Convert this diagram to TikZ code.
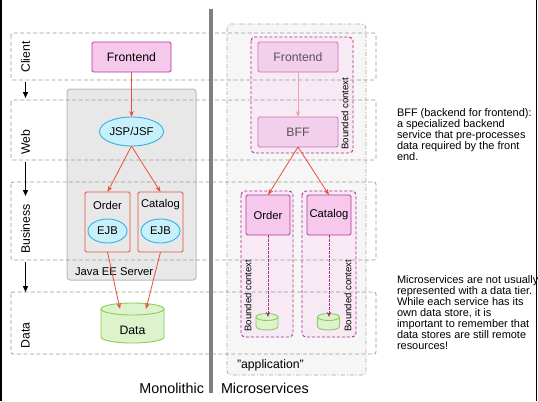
\documentclass[tikz,border=0pt]{standalone}
\usepackage{fontspec}
\setmainfont{Liberation Sans}
\usetikzlibrary{arrows.meta,shapes.geometric}
\definecolor{pinkfill}{HTML}{F5C8EC}
\definecolor{pinkdraw}{HTML}{B23AA0}
\definecolor{pinkfillB}{HTML}{F4CFEB}
\definecolor{pinkdrawB}{HTML}{C673B5}
\definecolor{bcfill}{HTML}{F8EAF4}
\definecolor{bcdraw}{HTML}{B0288F}
\definecolor{arrred}{HTML}{E8503A}
\definecolor{arrsalmon}{HTML}{F5A0A0}
\definecolor{cyanfill}{HTML}{C8F0FB}
\definecolor{cyandraw}{HTML}{3AAEE0}
\definecolor{greenfill}{HTML}{DCF3CC}
\definecolor{greendraw}{HTML}{8CCC5C}
\definecolor{srvfill}{HTML}{E8E8E8}
\definecolor{srvdraw}{HTML}{BBBBBB}
\definecolor{bandgray}{HTML}{9A9A9A}
\definecolor{appfill}{HTML}{F6F6F6}
\definecolor{appdraw}{HTML}{A8A8A8}
\definecolor{divgray}{HTML}{808080}
\definecolor{txtgray}{HTML}{555555}
\newcommand\fsA{\fontsize{12.3}{14}\selectfont}
\newcommand\fsB{\fontsize{11.3}{13}\selectfont}
\newcommand\fsC{\fontsize{9.6}{11}\selectfont}
\newcommand\fsD{\fontsize{11}{10.9}\selectfont}
\newcommand\fsE{\fontsize{14.4}{16}\selectfont}
\tikzset{
  band/.style={draw=bandgray, dash pattern=on 4bp off 2.5bp, rounded corners=2bp, line width=0.8bp},
  appbox/.style={draw=appdraw, fill=appfill, dash pattern=on 4bp off 2bp on 1bp off 2bp, rounded corners=4bp, line width=0.8bp},
  server/.style={draw=srvdraw, fill=srvfill, rounded corners=3bp, line width=1bp},
  bcbox/.style={draw=bcdraw, fill=bcfill, dash pattern=on 3bp off 2bp, rounded corners=4bp, line width=0.9bp},
  pinkbox/.style={draw=pinkdraw, fill=pinkfill, rounded corners=1.5bp, line width=0.9bp, font=\fsA},
  pinkboxB/.style={draw=pinkdrawB, fill=pinkfillB, rounded corners=1.5bp, line width=0.9bp, font=\fsA, text=txtgray},
  redbox/.style={draw=arrred, rounded corners=1.5bp, line width=0.9bp},
  cyanell/.style={ellipse, draw=cyandraw, fill=cyanfill, line width=0.9bp, font=\fsB},
  cylstyle/.style={draw=greendraw, fill=greenfill, line width=0.9bp},
  redarr/.style={draw=arrred, line width=0.8bp, -{Stealth[length=6bp,width=4.5bp]}},
  salarr/.style={draw=arrsalmon, line width=1bp, -{Stealth[length=6bp,width=4.5bp]}},
  magarr/.style={draw=bcdraw, line width=0.8bp, dash pattern=on 2.5bp off 1.5bp, -{Stealth[length=5bp,width=4bp]}},
  tierarr/.style={draw=black, line width=1.4bp, -{Triangle[length=6bp,width=5bp]}},
  tierlbl/.style={rotate=90, font=\fsA},
  bclbl/.style={rotate=90, font=\fsC},
  every node/.style={inner sep=0pt, outer sep=0pt}
}
\begin{document}
\begin{tikzpicture}[x=1bp,y=-1bp]
\useasboundingbox (0,0) rectangle (538,401);
\fill[white] (0,0) rectangle (538,401);

% application box
\draw[appbox] (227,24) rectangle (366,375);
\node[anchor=west, font=\fsA] (applbl) at (237,365) {"application"};

% Java EE server
\draw[server] (67,89) rectangle (196,280);
\node[anchor=west, font=\fsB] (srvlbl) at (75,272) {Java EE Server};

% bounded contexts
\draw[bcbox] (251,37) rectangle (353,153);
\draw[bcbox] (241,191) rectangle (293,337);
\draw[bcbox] (302,191) rectangle (356,337);
\node[bclbl] (bc1) at (345,113.5) {Bounded context};
\node[bclbl] (bc2) at (248,295.5) {Bounded context};
\node[bclbl] (bc3) at (348,295.5) {Bounded context};

% tier bands
\draw[band] (11,33) rectangle (376,80);
\draw[band] (11,100) rectangle (376,160);
\draw[band] (11,182) rectangle (376,260);
\draw[band] (11,292) rectangle (376,354);
\node[tierlbl] (tClient) at (25.5,57) {Client};
\node[tierlbl] (tWeb) at (25.5,142) {Web};
\node[tierlbl] (tBus) at (25.5,229) {Business};
\node[tierlbl] (tData) at (25.5,335.5) {Data};
\coordinate (a1s) at (25.5,82);
\coordinate (a1e) at (25.5,98);
\coordinate (a2s) at (25.5,162);
\coordinate (a2e) at (25.5,196);
\coordinate (a3s) at (25.5,262);
\coordinate (a3e) at (25.5,292);
\draw[tierarr] (a1s) -- (a1e);
\draw[tierarr] (a2s) -- (a2e);
\draw[tierarr] (a3s) -- (a3e);

% ---------- Monolithic ----------
\node[pinkbox, minimum width=79bp, minimum height=30bp] (feL) at (131.5,57) {Frontend};
\node[cyanell, minimum width=64bp, minimum height=29bp] (jsp) at (131.5,131.5) {JSP/JSF};
\node[redbox, minimum width=45bp, minimum height=60bp] (orderL) at (107.5,222) {};
\node[redbox, minimum width=45bp, minimum height=60bp] (catL) at (160.5,222) {};
\node[font=\fsB] (orderLt) at (107.5,205) {Order};
\node[font=\fsB] (catLt) at (160.5,205) {Catalog};
\node[cyanell, minimum width=39bp, minimum height=24bp] (ejb1) at (107.5,231) {EJB};
\node[cyanell, minimum width=39bp, minimum height=24bp] (ejb2) at (160.5,231) {EJB};
% data cylinder
\filldraw[cylstyle] (101,309) -- (101,337) arc[start angle=180,end angle=0,x radius=31.5,y radius=6] -- (164,309);
\filldraw[cylstyle] (132.5,309) ellipse[x radius=31.5,y radius=6];
\node[font=\fsA] (dataL) at (132.5,330) {Data};
\coordinate (dIn1) at (120,309);
\coordinate (dIn2) at (146,309);

\draw[redarr] (feL.south) -- (jsp.north);
\draw[redarr] (jsp.south) -- (orderL.north);
\draw[redarr] (jsp.south) -- (catL.north);
\draw[redarr] (orderL.south) -- (dIn1);
\draw[redarr] (catL.south) -- (dIn2);

% ---------- Microservices ----------
\node[pinkboxB, minimum width=80bp, minimum height=30bp] (feR) at (298,57) {Frontend};
\node[pinkboxB, minimum width=80bp, minimum height=30bp] (bff) at (298,132) {BFF};
\node[pinkbox, font=\fsB, minimum width=44bp, minimum height=40bp] (orderR) at (268,215) {Order};
\node[pinkbox, font=\fsB, minimum width=44bp, minimum height=40bp] (catR) at (329,215) {Catalog};
% small cylinders
\filldraw[cylstyle] (256,317) -- (256,326.5) arc[start angle=180,end angle=0,x radius=11,y radius=3.5] -- (278,317);
\filldraw[cylstyle] (267,317) ellipse[x radius=11,y radius=3.5];
\filldraw[cylstyle] (317.5,317) -- (317.5,326.5) arc[start angle=180,end angle=0,x radius=11,y radius=3.5] -- (339.5,317);
\filldraw[cylstyle] (328.5,317) ellipse[x radius=11,y radius=3.5];
\coordinate (ds1) at (268,317);
\coordinate (ds2) at (329,317);

\draw[salarr] (feR.south) -- (bff.north);
\draw[redarr] (bff.south) -- (orderR.north);
\draw[redarr] (bff.south) -- (catR.north);
\draw[magarr] (orderR.south) -- (ds1);
\draw[magarr] (catR.south) -- (ds2);

% notes
\node[anchor=north west, align=left, font=\fsD] (note1) at (397,109) {BFF (backend for frontend):\\a specialized backend\\service that pre-processes\\data required by the front\\end.};
\node[anchor=north west, align=left, font=\fsD] (note2) at (397,276) {Microservices are not usually\\represented with a data tier.\\While each service has its\\own data store, it is\\important to remember that\\data stores are still remote\\resources!};

% divider and bottom labels
\draw[line width=4bp, divgray] (211,9) -- (211,393);
\node[anchor=base east, font=\fsE] (mono) at (204,393) {Monolithic};
\node[anchor=base west, font=\fsE] (micro) at (221,393) {Microservices};

% side border lines
\draw[black, line width=1.4bp] (1,0) -- (1,401);
\draw[black, line width=1.4bp] (536.5,0) -- (536.5,401);
\end{tikzpicture}
\end{document}
